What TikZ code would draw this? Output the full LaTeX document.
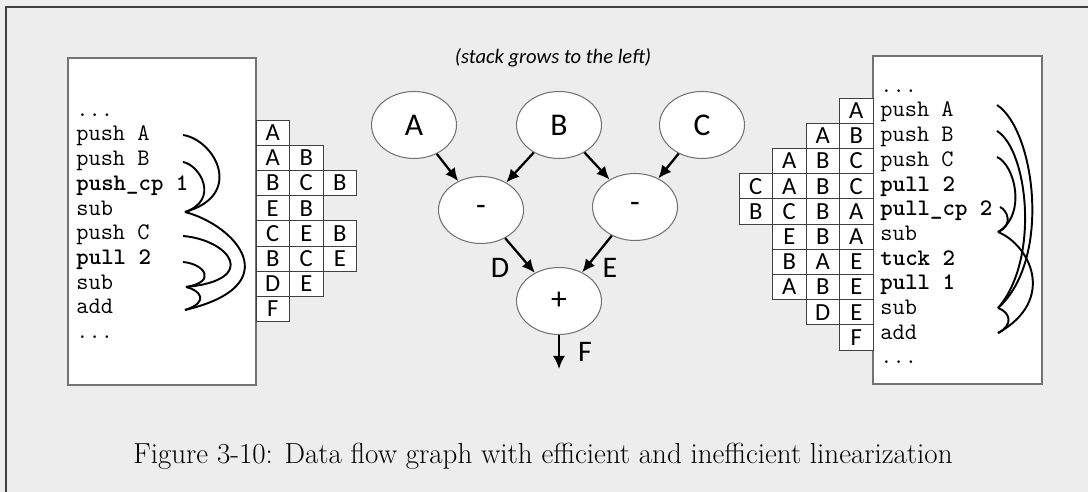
\documentclass[tikz,border=0pt]{standalone}
\usepackage{fontspec}
\newfontfamily\calibri{Carlito}
\usetikzlibrary{arrows.meta,shapes.geometric}

\begin{document}
\begin{tikzpicture}[x=0.02cm,y=-0.02cm,
  codeline/.style={anchor=base west,inner sep=0pt,font=\fontsize{13.5}{16}\selectfont\ttfamily},
  listing/.style={draw=black!55,line width=0.6pt,fill=white},
  cell/.style={draw=black!75,line width=0.5pt,fill=white,minimum width=0.67cm,minimum height=0.504cm,inner sep=0pt,outer sep=0pt,font=\fontsize{14}{14}\calibri},
  op/.style={ellipse,draw=black!55,line width=0.6pt,fill=white,minimum width=1.7cm,minimum height=1.34cm,inner sep=0pt,font=\fontsize{18}{20}\calibri},
  flow/.style={line width=1.3pt,-{Latex[length=2.6mm,width=2.4mm]}},
  link/.style={line width=1.1pt},
  lbl/.style={inner sep=0pt,font=\fontsize{17}{19}\calibri}]

\fill[black!7] (0,0) rectangle (1088,492);
\useasboundingbox (0,0) rectangle (1088,492);
\draw[black!75,line width=0.9pt] (6,492) -- (6,7) -- (1088,7);

% left listing
\path[listing] (68,58) rectangle (256,385);
\node[codeline] (l0) at (76,116.3) {...};
\node[codeline] (l1) at (76,141) {push A};
\node[codeline] (l2) at (76,165.7) {push B};
\node[codeline] (l3) at (76,190.4) {\bfseries push\_cp 1};
\node[codeline] (l4) at (76,215.1) {sub};
\node[codeline] (l5) at (76,239.8) {push C};
\node[codeline] (l6) at (76,264.5) {\bfseries pull 2};
\node[codeline] (l7) at (76,289.2) {sub};
\node[codeline] (l8) at (76,313.9) {add};
\node[codeline] (l9) at (76,338.6) {...};

\path (272.75,132.6) node[cell] (ls11) {A};
\path (272.75,157.8) node[cell] (ls21) {A} (306.25,157.8) node[cell] (ls22) {B};
\path (272.75,183) node[cell] (ls31) {B} (306.25,183) node[cell] (ls32) {C} (339.75,183) node[cell] (ls33) {B};
\path (272.75,208.2) node[cell] (ls41) {E} (306.25,208.2) node[cell] (ls42) {B};
\path (272.75,233.4) node[cell] (ls51) {C} (306.25,233.4) node[cell] (ls52) {E} (339.75,233.4) node[cell] (ls53) {B};
\path (272.75,258.6) node[cell] (ls61) {B} (306.25,258.6) node[cell] (ls62) {C} (339.75,258.6) node[cell] (ls63) {E};
\path (272.75,283.8) node[cell] (ls71) {D} (306.25,283.8) node[cell] (ls72) {E};
\path (272.75,309) node[cell] (ls81) {F};

\coordinate (la1) at (183,135);
\coordinate (la2) at (183,162);
\coordinate (lsub1) at (185,212);
\coordinate (la3) at (183,236);
\coordinate (la4) at (183,262);
\coordinate (lsub2) at (186,287);
\coordinate (ladd) at (185,310);
\draw[link] (la1) .. controls (215,140) and (245,195) .. (lsub1);
\draw[link] (la2) .. controls (200,165) and (220,200) .. (lsub1);
\draw[link] (lsub1) .. controls (235,225) and (290,285) .. (ladd);
\draw[link] (la3) .. controls (230,240) and (260,280) .. (lsub2);
\draw[link] (la4) .. controls (205,264) and (217,282) .. (lsub2);
\draw[link] (lsub2) .. controls (200,290) and (210,302) .. (ladd);

% data flow graph
\node[font=\fontsize{11.7}{14}\calibri\itshape] (note) at (553,58) {(stack grows to the left)};
\node[op] (A) at (414,125) {A};
\node[op] (B) at (559,125) {B};
\node[op] (C) at (702,125) {C};
\node[op] (subL) at (481,210) {-};
\node[op] (subR) at (635,207) {-};
\node[op] (add) at (559,301) {+};
\coordinate (out) at (559,369);
\draw[flow] (A) -- (subL);
\draw[flow] (B) -- (subL);
\draw[flow] (B) -- (subR);
\draw[flow] (C) -- (subR);
\draw[flow] (subL) -- (add);
\draw[flow] (subR) -- (add);
\draw[flow] (add) -- (out);
\node[lbl] (labD) at (500,268) {D};
\node[lbl] (labE) at (610,268) {E};
\node[lbl] (labF) at (585,352) {F};

% right listing
\path[listing] (873,56) rectangle (1042,384);
\node[codeline] (r0) at (880,92.3) {...};
\node[codeline] (r1) at (880,117) {push A};
\node[codeline] (r2) at (880,141.7) {push B};
\node[codeline] (r3) at (880,166.4) {push C};
\node[codeline] (r4) at (880,191.1) {\bfseries pull 2};
\node[codeline] (r5) at (880,215.8) {\bfseries pull\_cp 2};
\node[codeline] (r6) at (880,240.5) {sub};
\node[codeline] (r7) at (880,265.2) {\bfseries tuck 2};
\node[codeline] (r8) at (880,289.9) {\bfseries pull 1};
\node[codeline] (r9) at (880,314.6) {sub};
\node[codeline] (r10) at (880,339.3) {add};
\node[codeline] (r11) at (880,364) {...};

\path (856.25,110.6) node[cell] (rs11) {A};
\path (822.75,135.8) node[cell] (rs21) {A} (856.25,135.8) node[cell] (rs22) {B};
\path (789.25,161) node[cell] (rs31) {A} (822.75,161) node[cell] (rs32) {B} (856.25,161) node[cell] (rs33) {C};
\path (755.75,186.2) node[cell] (rs41) {C} (789.25,186.2) node[cell] (rs42) {A} (822.75,186.2) node[cell] (rs43) {B} (856.25,186.2) node[cell] (rs44) {C};
\path (755.75,211.4) node[cell] (rs51) {B} (789.25,211.4) node[cell] (rs52) {C} (822.75,211.4) node[cell] (rs53) {B} (856.25,211.4) node[cell] (rs54) {A};
\path (789.25,236.6) node[cell] (rs61) {E} (822.75,236.6) node[cell] (rs62) {B} (856.25,236.6) node[cell] (rs63) {A};
\path (789.25,261.8) node[cell] (rs71) {B} (822.75,261.8) node[cell] (rs72) {A} (856.25,261.8) node[cell] (rs73) {E};
\path (789.25,287) node[cell] (rs81) {A} (822.75,287) node[cell] (rs82) {B} (856.25,287) node[cell] (rs83) {E};
\path (822.75,312.2) node[cell] (rs91) {D} (856.25,312.2) node[cell] (rs92) {E};
\path (856.25,337.4) node[cell] (rs101) {F};

\coordinate (ra1) at (997,105);
\coordinate (ra2) at (997,131);
\coordinate (ra3) at (997,157);
\coordinate (rcp) at (1000,207);
\coordinate (rsub1) at (998,232);
\coordinate (rsub2) at (998,308);
\coordinate (radd) at (998,333);
\draw[link] (ra1) .. controls (1035,130) and (1052,260) .. (rsub2);
\draw[link] (ra2) .. controls (1028,150) and (1040,260) .. (rsub2);
\draw[link] (ra3) .. controls (1015,165) and (1027,215) .. (rsub1);
\draw[link] (rcp) .. controls (1007,210) and (1014,225) .. (rsub1);
\draw[link] (rsub1) .. controls (1030,245) and (1057,300) .. (radd);
\draw[link] (rsub2) .. controls (1010,312) and (1014,325) .. (radd);

\node[font=\fontsize{16.5}{19}\selectfont] (caption) at (543,456) {Figure 3-10: Data flow graph with efficient and inefficient linearization};
\end{tikzpicture}
\end{document}
